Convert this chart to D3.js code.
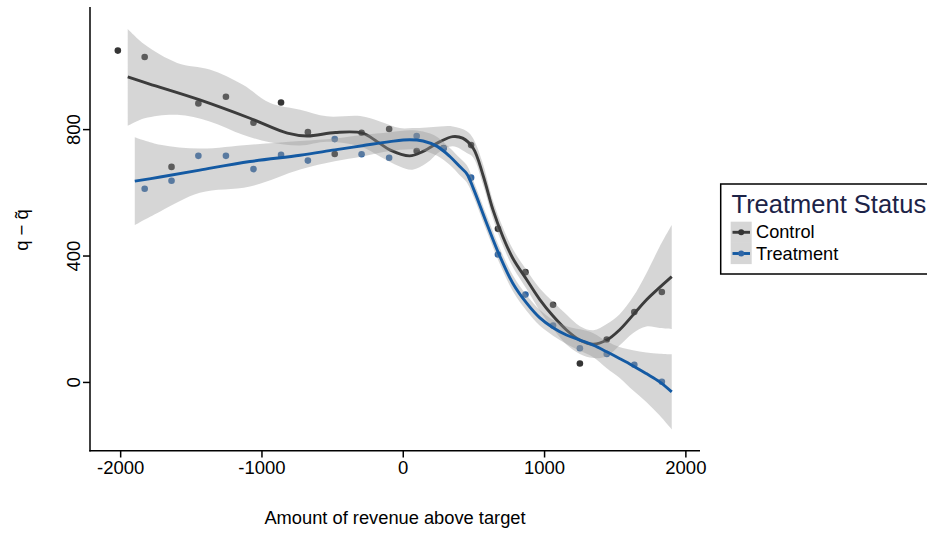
<!DOCTYPE html>
<html>
<head>
<meta charset="utf-8">
<script src="https://cdn.jsdelivr.net/npm/d3@7"></script>
<style>
  html, body { margin: 0; padding: 0; background: #fff; }
  svg { display: block; font-family: "Liberation Sans", Arial, Helvetica, sans-serif; }
</style>
</head>
<body>
<svg id="chart" width="927" height="533"></svg>
<script>
// ---------- data ----------
const xTicks = [-2000, -1000, 0, 1000, 2000];
const yTicks = [0, 400, 800];
const seriesNames = ["Control", "Treatment"];

// binned means (points)
const pointX = [-2020, -1830, -1640, -1450, -1255, -1060, -865, -675, -485, -295, -100, 95, 285, 480, 670, 865, 1060, 1250, 1440, 1635, 1830];
const controlPoints = [1050, 1030, 682, 883, 904, 822, 886, 792, 723, 790, 802, 732, 742, 751, 486, 349, 246, 60, 136, 223, 286];
const treatmentPoints = [null, 613, 638, 717, 717, 675, 720, 702, 770, 722, 711, 780, 740, 648, 405, 278, 180, 108, 90, 56, 2];

// smoothed fits
const controlFitX = [-1950, -1800, -1440, -1085, -820, -680, -480, -290, -185, -95, 45, 140, 260, 350, 420, 495, 565, 635, 705, 775, 875, 965, 1060, 1155, 1250, 1345, 1440, 1530, 1625, 1720, 1815, 1900];
const controlFit = [967, 945, 894, 836, 789, 780, 791, 789, 762, 736, 717, 731, 762, 778, 773, 741, 655, 546, 461, 393, 324, 263, 210, 166, 134, 121, 134, 166, 213, 261, 301, 335];

const treatmentFitX = [-1900, -1720, -1440, -1085, -730, -485, -290, -95, 45, 140, 240, 330, 400, 450, 495, 590, 685, 775, 875, 965, 1060, 1155, 1250, 1345, 1440, 1530, 1625, 1720, 1815, 1900];
const treatmentFit = [637, 650, 672, 699, 719, 736, 749, 762, 768, 764, 747, 715, 683, 660, 615, 504, 398, 314, 250, 205, 173, 150, 134, 118, 97, 76, 53, 28, 2, -30];

// confidence bands
const controlBandX = [-1950, -1830, -1600, -1370, -1135, -945, -730, -540, -305, -165, -25, 65, 165, 260, 350, 450, 495, 565, 635, 705, 775, 875, 965, 1060, 1155, 1250, 1345, 1440, 1530, 1625, 1720, 1815, 1900];
const controlLower = [812, 836, 847, 826, 784, 760, 750, 762, 747, 715, 683, 673, 694, 731, 747, 726, 712, 625, 518, 433, 365, 294, 228, 170, 120, 90, 77, 83, 117, 156, 177, 172, 169];
const controlUpper = [1118, 1069, 1011, 990, 942, 885, 863, 842, 843, 826, 805, 805, 807, 810, 810, 795, 772, 690, 575, 490, 422, 354, 298, 255, 215, 178, 165, 185, 215, 270, 345, 430, 498];

const treatmentBandX = [-1900, -1720, -1440, -1085, -730, -485, -290, -95, 45, 140, 240, 330, 400, 450, 495, 590, 685, 775, 875, 965, 1060, 1155, 1250, 1345, 1440, 1530, 1625, 1720, 1815, 1900];
const treatmentLower = [498, 541, 600, 620, 674, 700, 715, 732, 738, 734, 717, 688, 656, 633, 590, 479, 373, 289, 225, 180, 148, 122, 100, 80, 45, 15, -25, -62, -105, -149];
const treatmentUpper = [776, 752, 740, 752, 764, 772, 783, 792, 798, 794, 777, 742, 710, 687, 640, 529, 423, 339, 275, 230, 198, 178, 168, 156, 130, 112, 102, 95, 91, 89];

// ---------- drawing ----------
const colors = { Control: "#3c3c3c", Treatment: "#145aa3" };
const pointColors = { Control: "#353535", Treatment: "#2f66a6" };

const svg = d3.select("#chart");
const x = d3.scaleLinear().domain([-2217, 2100]).range([90, 700]);
const y = d3.scaleLinear().domain([-216, 1188]).range([450.7, 7]);

const zip = (xs, ys) => xs.map((v, i) => ({ x: v, y: ys[i] })).filter(d => d.y !== null);
const zipBand = (xs, lo, hi) => xs.map((v, i) => ({ x: v, lo: lo[i], hi: hi[i] }));

const series = [
  { name: "Control", pts: zip(pointX, controlPoints), fit: zip(controlFitX, controlFit), band: zipBand(controlBandX, controlLower, controlUpper) },
  { name: "Treatment", pts: zip(pointX, treatmentPoints), fit: zip(treatmentFitX, treatmentFit), band: zipBand(treatmentBandX, treatmentLower, treatmentUpper) }
];

// points layer
const gPts = svg.append("g");
series.forEach(s => {
  gPts.selectAll(null).data(s.pts).enter().append("circle")
    .attr("cx", d => x(d.x)).attr("cy", d => y(d.y)).attr("r", 3.3)
    .attr("fill", pointColors[s.name]);
});

// smooth layer
const area = d3.area().x(d => x(d.x)).y0(d => y(d.lo)).y1(d => y(d.hi)).curve(d3.curveCatmullRom.alpha(0.5));
const line = d3.line().x(d => x(d.x)).y(d => y(d.y)).curve(d3.curveCatmullRom.alpha(0.5));
const gSm = svg.append("g");
series.forEach(s => {
  gSm.append("path").attr("d", area(s.band)).attr("fill", "#999999").attr("fill-opacity", 0.4);
  gSm.append("path").attr("d", line(s.fit)).attr("fill", "none")
    .attr("stroke", colors[s.name]).attr("stroke-width", 2.9);
});

// axes
const axisG = svg.append("g").attr("stroke", "#000").attr("stroke-width", 1.5);
axisG.append("line").attr("x1", 90).attr("x2", 90).attr("y1", 7).attr("y2", 451.4);
axisG.append("line").attr("x1", 89.3).attr("x2", 700).attr("y1", 450.7).attr("y2", 450.7);

const xAxis = svg.append("g");
xTicks.forEach(t => {
  xAxis.append("line").attr("x1", x(t)).attr("x2", x(t)).attr("y1", 450.7).attr("y2", 457.5)
    .attr("stroke", "#000").attr("stroke-width", 1.5);
  xAxis.append("text").attr("x", x(t)).attr("y", 473.5).attr("text-anchor", "middle")
    .attr("font-size", 18.5).attr("fill", "#000").text(t);
});
const yAxis = svg.append("g");
yTicks.forEach(t => {
  yAxis.append("line").attr("x1", 83).attr("x2", 90).attr("y1", y(t)).attr("y2", y(t))
    .attr("stroke", "#000").attr("stroke-width", 1.5);
  yAxis.append("text").attr("transform", `translate(80,${y(t)}) rotate(-90)`)
    .attr("text-anchor", "middle").attr("font-size", 18.5).attr("fill", "#000").text(t);
});

// titles
svg.append("text").attr("x", 395).attr("y", 523.5).attr("text-anchor", "middle")
  .attr("font-size", 18.3).attr("fill", "#000").text("Amount of revenue above target");
svg.append("text").attr("transform", "translate(28,230) rotate(-90)")
  .attr("text-anchor", "middle").attr("font-size", 18.5).attr("fill", "#000").text("q \u2212 q\u0303");

// legend
const lg = svg.append("g");
lg.append("rect").attr("x", 720.7).attr("y", 184).attr("width", 240).attr("height", 90)
  .attr("fill", "#fff").attr("stroke", "#000").attr("stroke-width", 1.5);
lg.append("text").attr("x", 731.5).attr("y", 212.7).attr("font-size", 25.5).attr("fill", "#1c2347")
  .text("Treatment Status");
seriesNames.forEach((n, i) => {
  const ky = 221.7 + i * 21.2;
  lg.append("rect").attr("x", 730.7).attr("y", ky).attr("width", 21).attr("height", 21.2)
    .attr("fill", "#999999").attr("fill-opacity", 0.4);
  lg.append("line").attr("x1", 732.5).attr("x2", 750).attr("y1", ky + 10.6).attr("y2", ky + 10.6)
    .attr("stroke", colors[n]).attr("stroke-width", 2.9);
  lg.append("circle").attr("cx", 741.2).attr("cy", ky + 10.6).attr("r", 3).attr("fill", pointColors[n]);
  lg.append("text").attr("x", 756).attr("y", ky + 16.6).attr("font-size", 18.2).attr("fill", "#000").text(n);
});
</script>
</body>
</html>
